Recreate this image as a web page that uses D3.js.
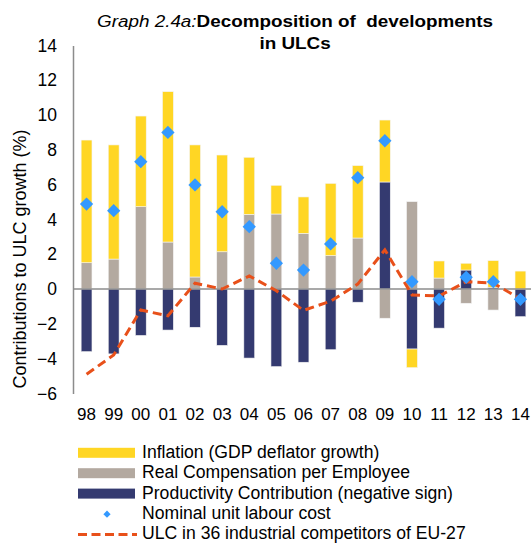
<!DOCTYPE html>
<html>
<head>
<meta charset="utf-8">
<script src="https://cdn.jsdelivr.net/npm/d3@7"></script>
<style>
  body { margin: 0; background: #fff; }
  text { font-family: "Liberation Sans", Arial, sans-serif; fill: #000; }
</style>
</head>
<body>
<svg id="chart" width="531" height="543"></svg>
<script>
// chart data
const years = ["98","99","00","01","02","03","04","05","06","07","08","09","10","11","12","13","14"];
const inflation = [7.05, 6.56, 5.21, 8.64, 7.59, 5.56, 3.28, 1.65, 2.09, 4.15, 4.16, 3.56, -1.07, 0.98, 0.39, 1.53, 1.03];
const realComp = [1.51, 1.72, 4.73, 2.70, 0.69, 2.14, 4.29, 4.31, 3.20, 1.92, 2.93, -1.68, 5.02, 0.63, -0.82, -1.21, 0];
const productivity = [-3.60, -3.73, -2.67, -2.36, -2.20, -3.24, -3.97, -4.46, -4.21, -3.49, -0.76, 6.15, -3.45, -2.25, 1.09, 0.10, -1.59];
const nominalULC = [4.88, 4.50, 7.32, 9.00, 5.98, 4.44, 3.58, 1.48, 1.09, 2.59, 6.40, 8.52, 0.42, -0.59, 0.67, 0.42, -0.59];
const competitorsULC = [-4.90, -3.79, -1.21, -1.54, 0.33, 0.00, 0.75, -0.10, -1.23, -0.70, 0.28, 2.25, -0.34, -0.40, 0.42, 0.33, -0.57];
const yTicks = [-6, -4, -2, 0, 2, 4, 6, 8, 10, 12, 14];

const legendLabels = [
  "Inflation (GDP deflator growth)",
  "Real Compensation per Employee",
  "Productivity Contribution (negative sign)",
  "Nominal unit labour cost",
  "ULC in 36 industrial competitors of EU-27"
];

const colors = { infl: "#FFD624", comp: "#B3A9A0", prod: "#343A70", ulc: "#3399FF", comp36: "#E8501A" };

// table for the stack layout (stack order from zero: comp, prod, infl)
const table = years.map((y, i) => ({ year: y, comp: realComp[i], prod: productivity[i], infl: inflation[i] }));

const svg = d3.select("#chart");

const x = d3.scaleBand().domain(years).range([73, 534]).paddingInner(0.6).paddingOuter(0.3);
const y = d3.scaleLinear().domain([-6, 14]).range([393.4, 45.4]);

const stack = d3.stack().keys(["comp", "prod", "infl"]).offset(d3.stackOffsetDiverging);
const series = stack(table);

// y axis
const yAxis = svg.append("g")
    .attr("transform", "translate(73,0)")
    .call(d3.axisLeft(y).tickValues(yTicks).tickSize(0).tickPadding(16).tickFormat(d3.format("d")));
yAxis.select(".domain").attr("stroke", "#8c8c8c").attr("stroke-width", 1.5);
yAxis.selectAll("text").style("font-size", "17.5px").attr("fill", "#000")
    .style("font-family", "Liberation Sans, Arial, sans-serif");

// x axis labels at the bottom
const xAxis = svg.append("g")
    .attr("transform", "translate(0,393)")
    .call(d3.axisBottom(x).tickSize(0).tickPadding(15));
xAxis.select(".domain").remove();
xAxis.selectAll("text").style("font-size", "17px").attr("fill", "#000")
    .style("font-family", "Liberation Sans, Arial, sans-serif");

// stacked bars
const barGroups = svg.append("g").attr("class", "bars")
  .selectAll("g")
  .data(series)
  .enter().append("g")
    .attr("fill", d => colors[d.key]);

barGroups.selectAll("rect")
  .data(d => d)
  .enter().append("rect")
    .attr("x", d => x(d.data.year))
    .attr("width", x.bandwidth())
    .attr("y", d => y(Math.max(d[0], d[1])))
    .attr("height", d => Math.abs(y(d[0]) - y(d[1])))
    .attr("stroke", "#f4f4f4")
    .attr("stroke-width", 0.6);

// zero line
svg.append("line")
    .attr("x1", 73).attr("x2", 531)
    .attr("y1", y(0)).attr("y2", y(0))
    .attr("stroke", "#8c8c8c").attr("stroke-width", 1.5);

// competitors ULC dashed line
const line = d3.line()
    .x((d, i) => x(years[i]) + x.bandwidth() / 2)
    .y(d => y(d));

svg.append("path")
    .datum(competitorsULC)
    .attr("fill", "none")
    .attr("stroke", colors.comp36)
    .attr("stroke-width", 3)
    .attr("stroke-dasharray", "9,5")
    .attr("d", line);

// nominal ULC diamonds
svg.append("g").selectAll("path")
  .data(nominalULC)
  .enter().append("path")
    .attr("d", d3.symbol().type(d3.symbolSquare).size(88))
    .attr("transform", (d, i) => `translate(${x(years[i]) + x.bandwidth() / 2},${y(d)}) rotate(45)`)
    .attr("fill", colors.ulc);

// title (the original type is a bit wide, so stretch it)
const titleG = svg.append("g").attr("transform", "translate(295,0) scale(1.11,1)");
const title = titleG.append("text")
    .attr("x", 0).attr("y", 27)
    .attr("text-anchor", "middle")
    .style("font-size", "17px");
title.append("tspan").style("font-style", "italic").text("Graph 2.4a:");
title.append("tspan").style("font-weight", "bold").attr("xml:space", "preserve").text("Decomposition of  developments");
titleG.append("text")
    .attr("x", 0).attr("y", 49)
    .attr("text-anchor", "middle")
    .style("font-size", "17px").style("font-weight", "bold")
    .text("in ULCs");

// y axis title
svg.append("text")
    .attr("transform", "translate(26,259) rotate(-90)")
    .attr("text-anchor", "middle")
    .style("font-size", "18px")
    .text("Contributions to ULC growth (%)");

// legend
const legend = svg.append("g").attr("class", "legend");
const rowY = [452.8, 473.2, 493.6, 514.2, 534.4];
const swatchColors = [colors.infl, colors.comp, colors.prod];

swatchColors.forEach((c, i) => {
  legend.append("rect")
    .attr("x", 78).attr("y", rowY[i] - 5)
    .attr("width", 57).attr("height", 10)
    .attr("fill", c);
});
legend.append("path")
    .attr("d", d3.symbol().type(d3.symbolSquare).size(26))
    .attr("transform", `translate(107,${rowY[3]}) rotate(45)`)
    .attr("fill", colors.ulc);
legend.append("line")
    .attr("x1", 78).attr("x2", 137)
    .attr("y1", rowY[4]).attr("y2", rowY[4])
    .attr("stroke", colors.comp36).attr("stroke-width", 3)
    .attr("stroke-dasharray", "9,4.5");

legendLabels.forEach((t, i) => {
  legend.append("text")
    .attr("x", 142).attr("y", rowY[i] + 5)
    .style("font-size", "17.6px")
    .text(t);
});
</script>
</body>
</html>
